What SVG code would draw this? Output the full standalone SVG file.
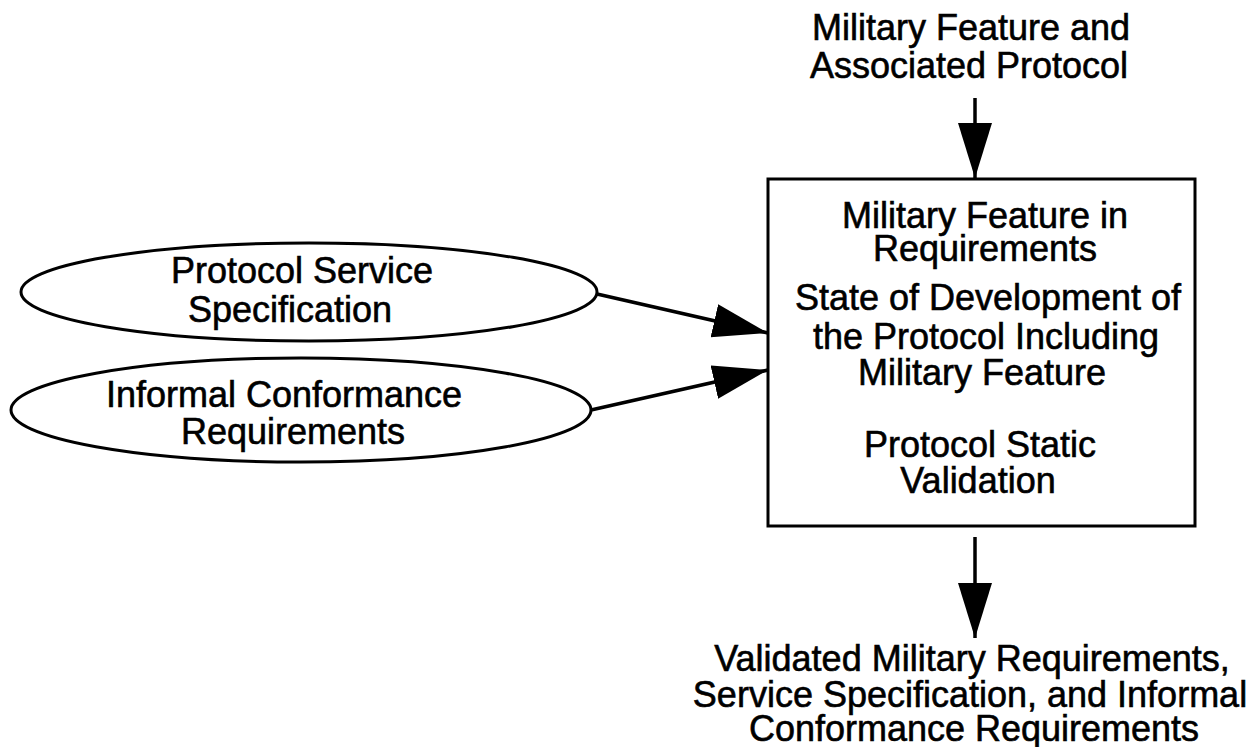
<svg xmlns="http://www.w3.org/2000/svg" width="1260" height="747" viewBox="0 0 1260 747">
  <style>
    .shape { fill: #ffffff; stroke: #000000; stroke-width: 3; }
    .lbl { font-family: "Liberation Sans", Arial, sans-serif; font-size: 36px; fill: #000000; stroke: #000000; stroke-width: 0.6; text-anchor: middle; }
    .edge { stroke: #000000; stroke-width: 3.5; fill: none; marker-end: url(#head); }
  </style>
  <defs>
    <marker id="head" markerUnits="userSpaceOnUse" markerWidth="56" markerHeight="36" refX="55" refY="17" orient="auto">
      <path d="M0,0 L55,17 L0,34 Z" fill="#000000"/>
    </marker>
  </defs>

  <rect width="1260" height="747" fill="#ffffff"/>

  <!-- input label above the process box -->
  <g id="input-feature">
    <text class="lbl" x="971" y="40">Military Feature and</text>
    <text class="lbl" x="969" y="78">Associated Protocol</text>
  </g>

  <!-- service specification input -->
  <g id="service-spec">
    <ellipse class="shape" cx="309" cy="292" rx="288" ry="49"/>
    <text class="lbl" x="302" y="283">Protocol Service</text>
    <text class="lbl" x="290" y="322">Specification</text>
  </g>

  <!-- informal conformance requirements input -->
  <g id="conformance-req">
    <ellipse class="shape" cx="301" cy="410" rx="290" ry="52"/>
    <text class="lbl" x="284" y="407">Informal Conformance</text>
    <text class="lbl" x="293" y="444">Requirements</text>
  </g>

  <!-- central process box -->
  <g id="validation-box">
    <rect class="shape" x="768" y="179" width="427" height="347"/>
    <text class="lbl" x="985" y="228">Military Feature in</text>
    <text class="lbl" x="985" y="261">Requirements</text>
    <text class="lbl" x="988" y="310">State of Development of</text>
    <text class="lbl" x="986" y="349">the Protocol Including</text>
    <text class="lbl" x="982" y="385">Military Feature</text>
    <text class="lbl" x="980" y="457">Protocol Static</text>
    <text class="lbl" x="978" y="493">Validation</text>
  </g>

  <!-- output label -->
  <g id="output-validated">
    <text class="lbl" x="972" y="671">Validated Military Requirements,</text>
    <text class="lbl" x="970" y="707">Service Specification, and Informal</text>
    <text class="lbl" x="974" y="741">Conformance Requirements</text>
  </g>

  <!-- connectors -->
  <g id="connectors">
    <line class="edge" x1="597" y1="294" x2="768" y2="333"/>
    <line class="edge" x1="591" y1="410" x2="768" y2="370"/>
    <line class="edge" x1="975" y1="98" x2="975" y2="178"/>
    <line class="edge" x1="975" y1="537" x2="975" y2="638"/>
  </g>
</svg>
